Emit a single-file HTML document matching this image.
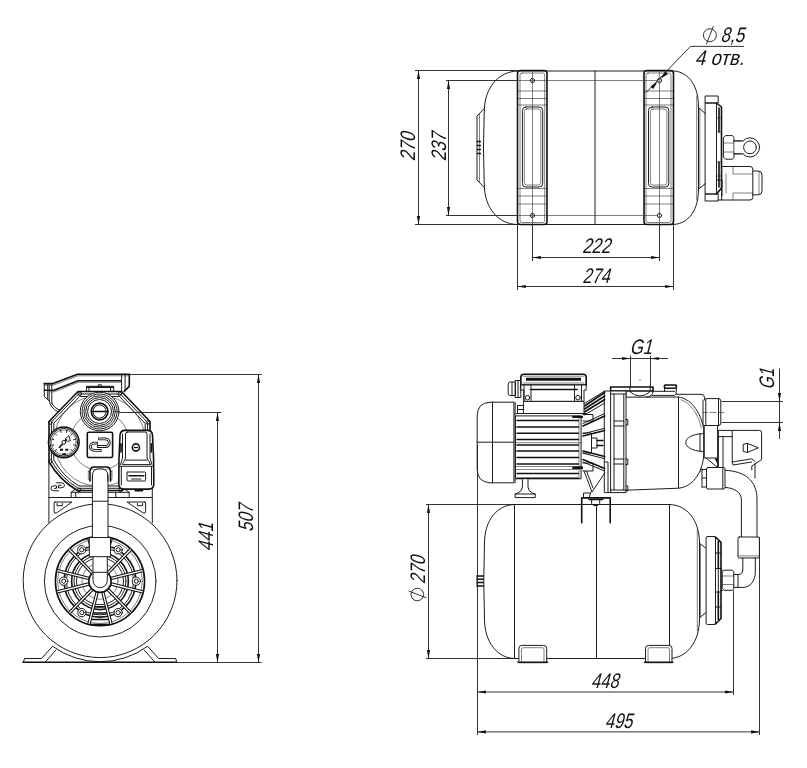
<!DOCTYPE html>
<html lang="ru">
<head>
<meta charset="utf-8">
<title>Габаритные размеры насосной станции</title>
<style>
  html, body { margin: 0; padding: 0; background: #ffffff; }
  body { width: 807px; height: 768px; overflow: hidden; }
  svg { display: block; filter: grayscale(1); }
  .m { fill: none; stroke: #1c1c1c; stroke-width: 1; stroke-linecap: round; stroke-linejoin: round; }
  .t { fill: none; stroke: #2a2a2a; stroke-width: 0.6; stroke-linecap: round; stroke-linejoin: round; }
  .k { fill: none; stroke: #111; stroke-width: 1.6; stroke-linecap: round; stroke-linejoin: round; }
  .d { fill: none; stroke: #1c1c1c; stroke-width: 0.9; }
  .a { fill: #111; stroke: none; }
  .w { fill: #ffffff; }
  text { font-family: "Liberation Sans", sans-serif; font-style: normal; font-size: 21px; fill: #111; }
</style>
</head>
<body>
<svg width="807" height="768" viewBox="0 0 807 768">
<rect x="0" y="0" width="807" height="768" fill="#ffffff"/>

<!-- ======================= TOP VIEW ======================= -->
<g id="topview">
  <!-- tank body -->
  <path class="m" d="M517.5,71 L673.5,71 C690,72 698.5,88 698.5,106 L698.5,190 C698.5,208 690,223.5 673.5,224.5 L517.5,224.5 C498,224 485,208 484.3,186 Q482.6,148 484.3,110 C485,88 498,71.500 517.5,71 Z"/>
  <path class="m" d="M595,71 V224.5"/>
  <!-- left cap -->
  <path class="m" d="M484.300,108.500 L477,116 V180 L484.300,187.500"/>
  <path class="t" d="M479.500,113.500 V182.500"/>
  <path stroke="#111" stroke-width="1.400" fill="none" d="M476.800,141.500 H481 M476.800,145.500 H481 M476.800,149.500 H481 M476.800,153.500 H481"/>
  <!-- left strap -->
  <rect class="k" x="517.500" y="70.500" width="29.500" height="154" rx="3"/>
  <rect class="t" x="520" y="73" width="24.700" height="149.500" rx="2"/>
  <rect class="m" x="522.400" y="107" width="20.300" height="80" rx="3.500"/>
  <rect class="t" x="524.300" y="109" width="16.500" height="76" rx="2.500"/>
  <path class="t" d="M518,91 H547 M518,98.500 H547 M518,105 H547 M518,188.500 H547 M518,196 H547 M518,204 H547"/>
  <circle class="m" cx="532.500" cy="80.500" r="2.100"/>
  <circle class="m" cx="532.500" cy="215.500" r="2.100"/>
  <path class="t" d="M532.500,72 V224"/>
  <!-- right strap -->
  <rect class="k" x="644" y="70.500" width="29.500" height="154" rx="3"/>
  <rect class="t" x="646" y="73" width="25" height="149.500" rx="2"/>
  <rect class="m" x="648.500" y="107" width="20.300" height="80" rx="3.500"/>
  <rect class="t" x="650.400" y="109" width="16.500" height="76" rx="2.500"/>
  <path class="t" d="M644,91 H673 M644,98.500 H673 M644,105 H673 M644,188.500 H673 M644,196 H673 M644,204 H673"/>
  <circle class="m" cx="659.500" cy="80.500" r="2.100"/>
  <circle class="m" cx="659.500" cy="215.500" r="2.100"/>
  <path class="t" d="M659.500,72 V224"/>
  <!-- right flange and fittings -->
  <path class="m" d="M698.200,107.300 L705.500,113.700 M698.200,189.300 L705.500,183.500"/>
  <path class="t" d="M699.800,109 V187.500 M696.700,96 V200"/>
  <rect class="m" x="705.500" y="96" width="12.700" height="7"/>
  <rect class="m" x="705.500" y="194" width="12.700" height="7"/>
  <rect class="m" x="705.500" y="103" width="11" height="91"/>
  <path class="k" d="M716.500,103 L721.500,107 V188 L716.500,194"/>
  <path class="k" d="M719,108 V132 M719,162 V187"/>
  <path class="t" d="M716.500,118 H721.500 M716.500,132 H721.500 M716.500,162 H721.500 M716.500,176 H721.500"/>
  <!-- nut -->
  <path class="m" d="M723.700,137.500 L725.500,135.600 H732.500 L734,137.500 V157.300 L732.500,159.200 H725.500 L723.700,157.300 Z"/>
  <path class="t" d="M723.700,143 H734 M723.700,152 H734"/>
  <path class="m" d="M734,141 H741 M734,153.800 H741"/>
  <circle class="m" cx="750" cy="147.400" r="9.600"/>
  <circle class="m" cx="750" cy="147.400" r="6.400"/>
  <path class="w" d="M734.500,141.500 H743 V153.300 H734.500 Z"/>
  <path class="m" d="M734,141 H742.500 M734,153.800 H742.500"/>
  <!-- pressure switch box -->
  <path class="m" d="M722,166.500 H750 Q752.800,166.500 752.800,169 V197.500 Q752.800,200 750,200 H722 Z"/>
  <path class="m" d="M752.800,171 H758 Q762,171 762,175 V191 Q762,194.800 758,194.800 H752.800"/>
  <path class="t" d="M759,172 V194 M733,166.500 V174 H752.800 M733,200 V193 H752.800 M726,174 V193"/>
  <path class="m" d="M718.200,200 H722 M716.500,180 H722 V196"/>
</g>

<!-- top view dimensions -->
<g id="topdims">
  <path class="d" d="M415,70.500 H517 M415,224.500 H517 M418.500,70.500 V224.500"/>
  <path class="a" d="M418.500,70.500 l-1.600,8.400 h3.200 z M418.500,224.500 l-1.600,-8.400 h3.200 z"/>
  <path class="d" d="M446,80.500 H517 M446,215.500 H517 M448.500,80.500 V215.500"/>
  <path class="t" d="M517,80.500 H657 M517,215.500 H657"/>
  <path class="a" d="M448.500,80.500 l-1.600,8.400 h3.200 z M448.500,215.500 l-1.600,-8.400 h3.200 z"/>
  <path class="d" d="M532.500,224.500 V261 M659.500,224.500 V261 M532.500,257.500 H659.500"/>
  <path class="a" d="M532.500,257.500 l8.400,-1.600 v3.200 z M659.500,257.500 l-8.400,-1.600 v3.200 z"/>
  <path class="d" d="M517.500,224.500 V290 M673.500,224.500 V290 M517.500,286.500 H673.500"/>
  <path class="a" d="M517.500,286.500 l8.400,-1.600 v3.200 z M673.500,286.500 l-8.400,-1.600 v3.200 z"/>
  <!-- leader -->
  <path class="d" d="M646,92.600 L690.400,46.400 H743.900"/>
  <path class="a" d="M657.600,81.700 l-7.200,4.700 l2.800,2.700 z M660.800,78.700 l7.200,-4.700 l-2.800,-2.700 z"/>
  <circle class="d" cx="709.900" cy="35.200" r="6.500"/>
  <path class="d" d="M706.400,44.200 L713.400,26.200"/>
  <text transform="translate(720.300,41.600) skewX(-15)" font-size="19.200" textLength="23.800" lengthAdjust="spacingAndGlyphs">8,5</text>
  <text transform="translate(694.800,64.900) skewX(-15)" font-size="19.200" textLength="49" lengthAdjust="spacingAndGlyphs">4 отв.</text>
  <text transform="translate(581.900,253) skewX(-15)" textLength="28.300" lengthAdjust="spacingAndGlyphs">222</text>
  <text transform="translate(582.300,282.600) skewX(-15)" textLength="27.300" lengthAdjust="spacingAndGlyphs">274</text>
  <text transform="translate(414.500,161.300) rotate(-90) skewX(-15)" textLength="28.500" lengthAdjust="spacingAndGlyphs">270</text>
  <text transform="translate(445.600,161.300) rotate(-90) skewX(-15)" textLength="28.500" lengthAdjust="spacingAndGlyphs">237</text>
</g>

<!-- ======================= FRONT VIEW ======================= -->
<g id="frontview">
  <!-- tank circles -->
  <circle class="m" cx="100.100" cy="580.700" r="76.900"/>
  <circle class="m" cx="100.200" cy="581.200" r="55.800"/>
  <!-- bracket above tank -->
  <path class="m" d="M48.900,497.500 H152.300 M48.900,462 V522.500 M152.300,486 V523"/>
  <path class="m" d="M55,502 H72 L56.500,513 Q54.100,514 54.100,511.500 V503 Q54.100,502 55,502 Z M144.700,502 H127 L143.200,513 Q145.600,514 145.600,511.500 V503 Q145.600,502 144.700,502 Z"/>
  <path class="m" d="M57,503.500 V505.700 H62.300 V503.500 M137.400,503.500 V505.700 H142.600 V503.500"/>
  <path class="m" d="M75,489.500 L71.200,492.300 V497.500 M125.300,489.500 L129.200,492.300 V497.500 M75.700,492.300 V497.500 M115.800,492.300 V497.500 M71.200,492.300 H129.200"/>
  <!-- feet -->
  <path class="m" d="M23.500,661.800 L24.500,658.500 H41.500 L52.600,646.300 A80.800,80.800 0 0 0 147.600,646.300 L158.700,658.500 H175.700 L176.700,661.800 M45.500,661.800 L56,650 M154.700,661.800 L144.200,650"/>
  
  <path class="k" d="M23,662.300 H176.500"/>
  <!-- flange with spokes -->
  <circle class="k w" cx="100" cy="581.200" r="44.600"/>
  <circle class="t" cx="100" cy="581.200" r="42.300"/>
  <circle class="k" cx="100" cy="581.200" r="35.900"/>
  <circle class="m" cx="100" cy="581.200" r="33.600"/>
  <circle class="k" cx="100" cy="581.200" r="28.400"/>
  <circle class="m" cx="100" cy="581.200" r="26"/>
  <circle class="m" cx="100" cy="581.200" r="23.500"/>
  <circle class="t" cx="100" cy="581.200" r="18"/>
  <path class="k" d="M94.4,606.8 H105.6 M92.8,613.0 H107.2 M91.1,619.5 H108.9 M89.8,624.5 H110.2"/>
  <path stroke="#111" stroke-width="3.400" stroke-linecap="butt" fill="none" d="M111.2,578.4 L142.7,570.6 M111.2,584.0 L142.7,591.8 M108.0,572.9 L130.6,549.5 M108.0,589.5 L130.6,612.9 M88.8,584.0 L57.3,591.8 M88.8,578.4 L57.3,570.6 M92.0,589.5 L69.4,612.9 M92.0,572.9 L69.4,549.5 M102.9,592.3 L111.0,623.8 M97.1,592.3 L89.0,623.8 M97.1,570.1 L89.0,538.6 M102.9,570.1 L111.0,538.6"/>
  <path stroke="#fff" stroke-width="1.300" stroke-linecap="butt" fill="none" d="M111.2,578.4 L142.7,570.6 M111.2,584.0 L142.7,591.8 M108.0,572.9 L130.6,549.5 M108.0,589.5 L130.6,612.9 M88.8,584.0 L57.3,591.8 M88.8,578.4 L57.3,570.6 M92.0,589.5 L69.4,612.9 M92.0,572.9 L69.4,549.5 M102.9,592.3 L111.0,623.8 M97.1,592.3 L89.0,623.8 M97.1,570.1 L89.0,538.6 M102.9,570.1 L111.0,538.6"/>
  <circle class="k w" cx="100" cy="581.200" r="11.200"/>
  <g>
    <circle class="m w" cx="136.3" cy="581.2" r="4.100"/><circle class="m" cx="136.3" cy="581.2" r="2.100"/>
    <circle class="m w" cx="118.2" cy="612.6" r="4.100"/><circle class="m" cx="118.2" cy="612.6" r="2.100"/>
    <circle class="m w" cx="81.9" cy="612.6" r="4.100"/><circle class="m" cx="81.9" cy="612.6" r="2.100"/>
    <circle class="m w" cx="63.7" cy="581.2" r="4.100"/><circle class="m" cx="63.7" cy="581.2" r="2.100"/>
    <circle class="m w" cx="81.8" cy="549.8" r="4.100"/><circle class="m" cx="81.8" cy="549.8" r="2.100"/>
    <circle class="m w" cx="118.2" cy="549.8" r="4.100"/><circle class="m" cx="118.2" cy="549.8" r="2.100"/>
  </g>
  <!-- handle -->
  <path class="k" d="M44.200,383.600 H53 L77.500,374.200 H129.300 V386.300 L124.100,391.300"/>
  <path class="t" d="M44.200,385.200 H53.300 L77.800,375.800 H130"/>
  <path class="k" d="M44.200,390.300 H54 L78,380.800 H121"/>
  <path class="t" d="M49,391.800 H54.300 L78.300,382.300 H121"/>
  <path class="m" d="M44.300,383.600 V396.600 L49.200,400.700 M47.700,384 V399.500 M49.200,384 V400.700 M51.800,384 V403 M121.600,374.200 V391.500 M125.100,374.200 V390.300"/>
  <path class="m" d="M49.200,400.700 Q50.500,408 57.500,411.500 M51.800,403 Q53.500,407.500 59.500,410"/>
  <!-- filler plug -->
  <path class="m" d="M86.400,391.500 V386.300 H113.700 V391.500 M98.300,386.300 V384.800 H101.300 V386.300 M89,388 V391.500 M110.600,388 V391.500"/>
  <path class="k" d="M87,387.200 H113"/>
  <!-- octagon pump casing -->
  <path class="k" d="M78,391.500 H121.500 L150,421.500 V462 Q139.500,480.500 122,490.500 H77.500 Q60,480.500 49,462 V421.500 Z"/>
  <path class="m" d="M79,394 H120.500 L147.600,422.500 V461 Q138,478.500 121.300,488.300 H78.300 Q61.500,478.500 51.400,461 V422.500 Z"/>
  <path class="m" d="M80,396.500 H119.500 L145.200,423.500 V460 Q136.500,476.500 120.500,486 H79 Q63,476.500 53.800,460 V423.500 Z"/>
  <circle class="t" cx="99.700" cy="441" r="45.500"/>
  <circle class="t" cx="99.700" cy="441" r="29.200"/>
  <g>
    <circle class="m" cx="79.800" cy="393.800" r="1.800"/><circle class="m" cx="119.800" cy="393.800" r="1.800"/>
    <circle class="m" cx="50.300" cy="422.500" r="1.800"/><circle class="m" cx="147.800" cy="422.500" r="1.800"/>
    <circle class="m" cx="50.300" cy="461.500" r="1.800"/>
    <circle class="m" cx="79" cy="490" r="1.800"/><circle class="m" cx="120.500" cy="490" r="1.800"/>
  </g>
  <!-- inlet port -->
  <circle class="w" cx="99.600" cy="411.500" r="19.300"/>
  <circle class="m" cx="99.600" cy="411.500" r="19.300" stroke-width="0.8"/>
  <circle class="m" cx="99.600" cy="411.500" r="17.500" stroke-width="0.8"/>
  <circle class="m" cx="99.600" cy="411.500" r="15.700" stroke-width="0.8"/>
  <circle class="m" cx="99.600" cy="411.500" r="13.900" stroke-width="0.8"/>
  <circle class="m" cx="99.600" cy="411.500" r="12"/>
  <circle class="k" cx="99.600" cy="411.500" r="8.400"/>
  <circle class="m" cx="99.600" cy="411.500" r="6.600"/>
  <path class="k" d="M92,411.500 H107.200"/>
  <!-- pressure gauge -->
  <circle class="k w" cx="63.800" cy="442.300" r="15.300"/>
  <circle class="m" cx="63.800" cy="442.300" r="13.900"/>
  <circle class="t" cx="63.800" cy="442.300" r="12.400"/>
  <path class="m" stroke-width="0.8" d="M55.1,451.0 L56.6,449.5 M51.9,445.5 L53.9,444.9 M51.9,439.1 L53.9,439.7 M55.1,433.6 L56.6,435.1 M60.6,430.4 L61.2,432.4 M67.0,430.4 L66.4,432.4 M72.5,433.6 L71.0,435.1 M75.7,439.1 L73.7,439.7 M75.7,445.5 L73.7,444.9 M72.5,451.0 L71.0,449.5"/>
  <path class="k" d="M59.300,447.500 L66.500,439.800"/>
  <path class="m" d="M65.300,438.800 L68.900,435.600 L70.300,440.800 L67.800,441.300 Z"/>
  <circle class="m w" cx="63.800" cy="442.300" r="1.900"/>
  <path stroke="#111" stroke-width="1.900" fill="none" d="M60,449.700 H63 M65.300,449.700 H68.200 M62.300,454.300 H66"/>
  <!-- logo plate -->
  <rect class="k w" x="87.300" y="432.300" width="25.300" height="25.200" rx="1.500" stroke-width="1.700"/>
  <g fill="none" stroke-linecap="butt">
    <path stroke="#111" stroke-width="2.800" d="M101.600,450.400 H94.100 A3.700,3.650 0 0 1 94.100,443.100 H98"/>
    <path stroke="#fff" stroke-width="1" d="M100.800,450.400 H94.100 A3.700,3.650 0 0 1 94.100,443.100 H97.200"/>
    <path stroke="#111" stroke-width="2.800" d="M98.200,438.900 H105.500 A3.800,3.800 0 0 1 105.500,446.500 H96.900"/>
    <path stroke="#fff" stroke-width="1" d="M99,438.900 H105.500 A3.800,3.800 0 0 1 105.500,446.500 H97.700"/>
  </g>
  <!-- small logo -->
  <path class="m" d="M56.500,482.800 H61.300 Q64.500,482.800 64.500,485.300 Q64.500,487.800 61.300,487.800 H58.500 V485.300 H61"/>
  <path class="m" d="M58.500,490.800 H54 Q51,490.800 51,488.300 Q51,485.800 54,485.800 H56.500 V488.300 H54.300"/>
  <!-- pressure switch -->
  <path class="k w" d="M125,430.400 H147.500 Q152,430.400 152.500,435 L153.600,459 L153.800,484 Q153.800,489 148.800,489.100 H123.800 Q118.800,489 118.800,484 L119,459 L120,435 Q120.500,430.400 125,430.400 Z"/>
  <path class="m" d="M127.500,432 H145 Q147,432 147,434 V457 Q147,459.400 149,461.500 L150.500,464.600 H122.300 L123.800,461.500 Q125.500,459.400 125.500,457 V434 Q125.500,432 127.500,432 Z"/>
  <path class="m" d="M122.500,434 V458 L120.500,464.600 M150,434 V458 L152,464.600 M125.500,460.100 H147 M119.500,466.300 H153.300"/>
  <path class="k" d="M121,443.800 V452 M151.300,443.800 V452"/>
  <circle class="k" cx="135.900" cy="447.500" r="3.600" stroke-width="1.400"/>
  <path class="k" stroke-width="1.300" d="M134.400,447.500 H135.200 M136.600,447.500 H137.400"/>
  <rect class="m" x="127" y="472" width="18.600" height="9" rx="0.800" stroke-width="1.200"/>
  <path class="k" stroke-width="1.800" d="M129,475.700 H143.800"/>
  <path class="m" stroke-width="1.200" d="M131.500,479 H141"/>
  <path class="m" d="M121.300,466.300 V485 M151.500,466.300 V485"/>
  <path class="k" d="M135.200,490.800 H142.600"/>
  <!-- pipe from pump down to tank -->
  <path class="w" d="M92.500,470 H108 V581 H92.500 Z"/>
  <circle class="w" cx="100.150" cy="580.500" r="7.100"/>
  <path class="k" d="M90,481 V472 Q90,467 94,467 H106.500 Q110.500,467 110.500,472 V481"/>
  <path class="m" d="M92.500,481 V475.500 Q92.500,468.700 99.700,468.700 Q107.800,468.700 107.800,475.500 V481"/>
  <path class="t" d="M88.300,471 L90,472.500 M112,471 L110.500,472.500 M88.300,471 V479 L90,481 M112,471 V479 L110.500,481"/>
  <path class="m" d="M92.400,475 V537.500 M108,475 V537.500"/>
  <rect class="m w" x="89.700" y="537.500" width="20.800" height="19.200"/>
  <path class="m" d="M93,556.700 V580.500 A7.150,7.150 0 0 0 107.300,580.500 V556.700"/>
  <path class="m" d="M93,572.300 H107.300"/>
  <path class="m" d="M92.400,501.200 H108"/>
</g>
<!-- front view dimensions -->
<g id="frontdims">
  <path class="d" d="M129.300,374.500 H261.700 M118.800,412.500 H221.200 M176.500,662.500 H261.700"/>
  <path class="d" d="M258.500,374.500 V662.500 M217.500,412.500 V662.500"/>
  <path class="a" d="M258.500,374.500 l-1.600,8.400 h3.200 z M258.500,662.500 l-1.600,-8.400 h3.200 z M217.500,412.500 l-1.600,8.400 h3.200 z M217.500,662.500 l-1.600,-8.400 h3.200 z"/>
  <text transform="translate(212.600,551.400) rotate(-90) skewX(-15)" textLength="28.500" lengthAdjust="spacingAndGlyphs">441</text>
  <text transform="translate(253.200,532) rotate(-90) skewX(-15)" textLength="27.500" lengthAdjust="spacingAndGlyphs">507</text>
</g>


<!-- ======================= SIDE VIEW ======================= -->
<g id="sideview">
  <!-- tank -->
  <path class="m" d="M514.500,504.500 H669.500 C687,505 699,520 699.500,542 V620 C699,642 687,658 669.500,658.500 H514.500 C497,658 485,642 484.500,620 Q483,581 484.500,542 C485,520 497,505 514.500,504.500 Z"/>
  <path class="m" d="M514.500,504.500 V658.500 M669.500,504.500 V658.500 M596.500,504.500 V658.500"/>
  <!-- valve on the left end -->
  <path stroke="#111" stroke-width="1.500" fill="none" d="M476.800,576 H483.800 M476.800,579.300 H483.800 M476.800,582.600 H483.800 M476.800,585.900 H483.800"/>
  <path class="m" d="M477,575.500 V586.500"/>
  <!-- feet -->
  <path class="m w" d="M518.900,662.300 V648.400 Q518.900,645.400 521.900,645.400 H543.700 Q546.700,645.400 546.700,648.400 V662.300 Z"/>
  <path class="t" d="M521.500,662 V649.500 Q521.500,647.700 523.500,647.700 H542 Q544,647.700 544,649.500 V662"/>
  <path class="k" d="M518,662.300 H547.600"/>
  <path class="m w" d="M645.500,662.300 V648.400 Q645.500,645.400 648.500,645.400 H669 Q672,645.400 672,648.400 V662.300 Z"/>
  <path class="t" d="M648,662 V649.500 Q648,647.700 650,647.700 H667.500 Q669.500,647.700 669.500,649.500 V662"/>
  <path class="k" d="M644.600,662.300 H672.900"/>
  <!-- tank flange on the right end -->
  <path class="m" d="M699.400,543 L706,548.500 M699.400,618 L706,612.500"/>
  <path class="t" d="M700.500,544.500 V616.500 M697.300,530 V631"/>
  <rect class="m w" x="706.100" y="536.500" width="9.400" height="88" rx="1.500"/>
  <path class="k" d="M715.500,537 L721,542.300 V618.500 L715.500,624"/>
  <path class="k" d="M718.300,541.500 V568.500 M718.300,592 V619.500"/>
  <path class="m" d="M718.300,568.500 V592 M721,570 H722.500 M721,590.500 H722.500"/>
  <path class="m" d="M715.500,553 H721 M715.500,568.500 H721 M715.500,592 H721 M715.500,607 H721"/>
  <!-- nut -->
  <path class="m w" d="M722.500,571.800 L724,570.200 H732.500 L733.800,571.800 V588.700 L732.500,590.300 H724 L722.500,588.700 Z"/>
  <path class="t" d="M722.500,576 H733.800 M722.500,584.500 H733.800"/>
  <!-- pipe: pump -> tank -->
  <path class="m" d="M725,470.300 C745,471 757,481 757,499 V537 M725,487.400 C735,488 741.400,492.500 741.400,500 V537"/>
  <rect class="m w" x="738" y="537" width="21.400" height="21" rx="1.200"/>
  <path class="t" d="M738,555.900 H759.400"/>
  <path class="m" d="M755.300,558 V572.400 C755.300,581 750,587.400 743.100,587.400 H733.800 M742.800,558 V570 C742.800,573 741,574.500 738,574.500 H733.800"/>
  <path class="m" d="M738,574.500 V587.400"/>
  <!-- pump outlet fitting -->
  <rect class="m w" x="706.500" y="467.500" width="18.500" height="21.500" rx="1.500"/>
  <path class="m" d="M702,469.500 H706.500 M702,487 H706.500 M702,469.500 V487 M702,478 H706.500 M722.800,467.500 V489"/>
  <!-- pressure switch (side) -->
  <path class="m" d="M718.400,430.400 H759.500 Q761.600,430.400 761.600,432.500 V459.700 L751.800,466 V470"/>
  <path class="m" d="M718.400,436.600 H732.200 M732.200,430.400 V462 L751.800,458.800 L755,461.500 M755,463.800 V478"/>
  <path class="m" d="M732.200,462 L733,465 L751.800,462"/>
  <path class="m" d="M743.600,444.200 L747.500,443.400 L758.300,447.800 L747.500,452.400 L743.600,451.600 Z M747.500,443.400 V452.400"/>
  <path class="m" d="M718.400,430.400 V467.500 M723,436.600 V467.500"/>
  <rect class="m" x="704.600" y="425.500" width="13" height="32.500"/>
  <path class="a" d="M714.500,458.500 L717.600,458.500 L717.600,464 Z"/>
  <path class="m" d="M706,458 L717.600,467.500 M717.600,458 V467.500"/>
  <!-- pump outlet port G1 -->
  <path class="m w" d="M706.200,398.600 H718.500 Q720.800,398.600 720.800,401 V423 Q720.800,425.500 718.500,425.500 H706.200 Z"/>
  <path class="m" d="M703,400 V425.500 H706.200 M718.500,398.600 V425.500"/>
  <path class="t" d="M703,412.500 H707.500 M710,412.500 H716 M718.500,412.500 H724"/>
  <!-- pump casing -->
  <path class="m" d="M626,397.200 L678.500,397 C690,398.500 700,410 703.700,428.700 V456 C702,474 692,487 678.500,488.200 L626,490.200"/>
  <path class="t" d="M681,399.800 C689.500,402 697.500,412 701.300,428"/>
  <path class="m" d="M678.500,397 V488.200"/>
  <path class="m" d="M676.500,394.300 H701 Q704.600,394.300 704.600,398 V400"/>
  <path class="m" d="M653,391.300 H674.400 L677,393.400 L674.400,395.400 H652"/>
  <path class="t" d="M700.500,472 L702,468"/>
  <!-- plug on casing -->
  <path class="m" d="M703,433.600 C692,434 685.800,438 685.800,442.500 C685.800,447 692,451 703,451.500 M700,433.800 V451.300"/>
  <!-- top bolt on casing -->
  <path class="k" d="M665.300,385 H675.500 Q677.500,386.500 675.500,388.300 H665.300 Q663.300,386.500 665.300,385 Z"/>
  <path class="m" d="M664.500,388.300 V391.300 M676.300,388.300 V391.300"/>
  <!-- top inlet boss -->
  <path class="k" d="M610.600,387 H653 V391 H610.600 Z"/>
  <path class="m" d="M626,391 V397.200 M653,391 Q653,397 646,397.200 M629.800,387 V391.500 Q634,396 640,396 Q646,396 650.200,391.500 V387"/>
  <!-- pump flange plates -->
  <path class="m w" d="M604.700,391 H626 V492.600 H604.700 Z"/>
  <path class="m" d="M610.600,387 V492.600 M614,394 V490 M623.800,394 V490 M610.600,394 H626 M610.600,490 H626"/>
  <path class="m" d="M614,421 H623.800 M614,426 H623.800 M614,459 H623.800 M614,464 H623.800"/>
  <path class="m" d="M626,419.500 H627.800 V425 H626 M626,459 H627.800 V464.500 H626 M626,486 H627.800 V491 H626"/>
  <path class="m" d="M604.700,462 H608 V492.600"/>
  <!-- lantern / bracket between motor and pump -->
  <path class="k" d="M584.500,406 L604.700,392.500 M584.500,409 L604.700,396 M584.500,412 L604.700,399.500"/>
  <path class="m" d="M584.500,403.500 L604.700,391 M584.500,415 L604.700,403"/>
  <path class="m" d="M583,463 H593 V471 H583 M583,414.500 H593 V421 H583"/>
  <path class="m" d="M584,471 L592,492 L604.700,473 M586.500,471 L593,488 M591,492 L589,497.600"/>
  <path class="k" d="M583,426 L604.700,416 M583,436 L604.700,430.500 M583,451 L604.700,456.500 M583,459.500 L604.700,468.500"/>
  <path class="m" d="M583,423.500 L604.700,413.500 M583,433.800 L604.700,428.300 M583,453.200 L604.700,458.700 M583,462 L604.700,471"/>
  <path class="m" d="M583,433 H591.500 V453 H583 M591.500,438 H597 V448 H591.500"/>
  <path class="k" d="M597,440.500 H603 M597,445.500 H603"/>
  <!-- mounting pad under pump -->
  <path class="k" d="M581.700,522.700 V497.900 H610.200 V522.700"/>
  <path class="m" d="M583.500,497.900 V493 H590.500 M591.600,500.400 V503.500 L593.500,505.500 H597.800 L599.700,503.500 V500.400"/>
  <path class="k" stroke-width="2" d="M589.100,499.500 H602.800"/>
  
  
  <!-- motor body -->
  <rect class="m w" x="515.900" y="415.900" width="65.200" height="62.900"/>
  <path stroke="#111" stroke-width="1.500" fill="none" d="M516.500,420.4 H579 M516.500,427.0 H579 M516.500,433.2 H579 M516.500,439.5 H579 M516.500,445.0 H579 M516.500,451.1 H579 M516.500,457.4 H579 M516.500,464.0 H579 M516.500,473.4 H579 M516.500,478.2 H579"/>
  <path class="t" d="M516,442.700 H581 M516,466.500 H581 M516,469.500 H579 M579,418 V478"/>
  <path class="m" d="M515.100,402.200 V482.800"/>
  <path stroke="#111" stroke-width="2.400" fill="none" d="M572.300,416.900 H583 M572.300,467.800 H583"/>
  <!-- fan cover -->
  <path class="m w" d="M513.500,402.200 H490 Q477.200,403 477.200,416 V469 Q477.200,482 490,482.800 H513.500 Z"/>
  <path class="m" d="M477.200,442.200 H513.500 M492.500,402.200 V482.800"/>
  <!-- terminal box -->
  <path class="k w" d="M524,374.200 H583 Q586.200,374.200 586.200,377.200 V385 H520.800 V377.200 Q520.800,374.200 524,374.200 Z"/>
  <path stroke="#111" stroke-width="3" fill="none" d="M526,379.300 H581"/>
  <path class="t" d="M523,376.200 H584 M523,383 H584"/>
  <path class="m w" d="M520.800,385 H586.200 V390 H584 V401.400 H523.800 V390 H520.800 Z"/>
  <path class="k" d="M530.500,389.500 H577"/>
  <path class="m" d="M524,385 V401 M531,385 V401 M574.500,385 V401 M581.500,385 V401"/>
  <circle class="m w" cx="527.500" cy="397.700" r="2.300"/>
  <circle class="m w" cx="578" cy="397.700" r="2.300"/>
  <path class="m w" d="M523.800,401.400 H584 V413.500 H523.800 Z"/>
  <path class="m" d="M516,413.500 H586 M517.500,405.500 H523.800 M517.500,409.500 H523.800 M517.500,405.500 V413.500"/>
  <!-- cable gland -->
  <path class="m w" d="M508.200,384 Q508.200,382 510.200,382 H515.500 V395.500 H510.200 Q508.200,395.500 508.200,393.500 Z"/>
  <path class="m" d="M515.500,380.500 H520.800 V397.500 H515.500 Z M518,380.500 V397.500 M512,382 V395.500"/>
  <!-- motor foot -->
  <path class="m w" d="M522.400,479.600 V487 Q522.400,491 518,493 L515.100,494 V497.600 H535.200 V494 L532.500,493 Q528,491 528,487 V479.600"/>
  <path class="m" d="M515.100,494 H535.200"/>
</g>
<!-- side view dimensions -->
<g id="sidedims">
  <path class="d" d="M426,504.500 H514.200 M426,658.500 H514.200 M428.500,504.500 V658.500"/>
  <path class="a" d="M428.500,504.500 l-1.600,8.400 h3.200 z M428.500,658.500 l-1.600,-8.400 h3.200 z"/>
  <path class="d" d="M477.500,445 V735 M733.500,590.300 V695 M759.500,537 V735"/>
  <path class="d" d="M477.500,692 H733.500 M477.500,731.900 H759.500"/>
  <path class="a" d="M477.500,692 l8.400,-1.600 v3.200 z M733.500,692 l-8.400,-1.600 v3.200 z M477.500,731.900 l8.400,-1.600 v3.200 z M759.500,731.900 l-8.400,-1.600 v3.200 z"/>
  <!-- G1 top -->
  <path class="d" d="M630.500,355.600 V387 M650.500,355.600 V387 M612,358.500 H668"/>
  <path class="a" d="M630.500,358.500 l-8.400,-1.600 v3.200 z M650.500,358.500 l8.400,-1.600 v3.200 z"/>
  <path class="t" d="M640,379.500 V380.500"/>
  <!-- G1 right -->
  <path class="d" d="M721.600,401.500 H782.800 M721.600,422.500 H782.800 M779.500,368.600 V439"/>
  <path class="a" d="M779.500,401.500 l-1.600,-8.400 h3.200 z M779.500,422.500 l-1.600,8.400 h3.200 z"/>
  <text transform="translate(629.500,353.500) skewX(-15)" font-size="17.300" textLength="22.500" lengthAdjust="spacingAndGlyphs">G1</text>
  <text transform="translate(773.500,389.800) rotate(-90) skewX(-15)" font-size="17.300" textLength="21" lengthAdjust="spacingAndGlyphs">G1</text>
  <text transform="translate(590.800,688.100) skewX(-15)" textLength="27.500" lengthAdjust="spacingAndGlyphs">448</text>
  <text transform="translate(604.800,727.700) skewX(-15)" textLength="27.300" lengthAdjust="spacingAndGlyphs">495</text>
  <text transform="translate(424.500,584) rotate(-90) skewX(-15)" textLength="27.800" lengthAdjust="spacingAndGlyphs">270</text>
  <circle class="d" cx="417.300" cy="594.500" r="6.300"/>
  <path class="d" d="M408.700,591 L426.400,597.900"/>
</g>


</svg>
</body>
</html>
